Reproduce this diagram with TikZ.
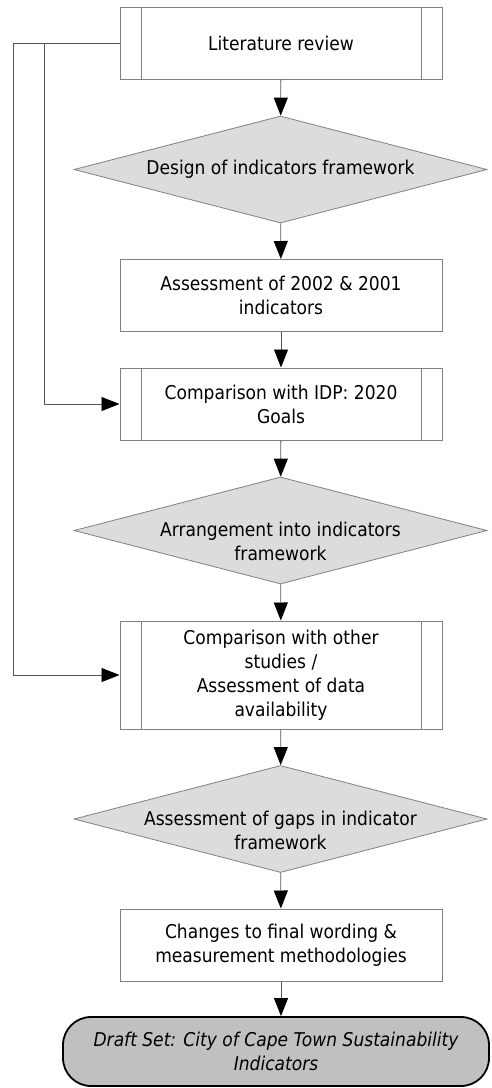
\documentclass[tikz,border=0pt]{standalone}
\usepackage{fontspec}
\setmainfont{DejaVu Sans}[FakeStretch=0.9]
\usetikzlibrary{shapes.geometric,arrows.meta}
\definecolor{boxgray}{HTML}{808080}
\definecolor{linegray}{HTML}{555555}
\definecolor{dfill}{HTML}{DCDCDC}
\definecolor{tfill}{HTML}{C0C0C0}
\newcommand\flowfont{\fontsize{19}{24}\selectfont}
\begin{document}
\begin{tikzpicture}[x=1pt,y=-1pt,
  proc/.style={rectangle, draw=boxgray, line width=1pt, fill=white,
    minimum width=322pt, minimum height=72pt, inner sep=0pt, align=center, font=\flowfont},
  predef/.style={proc, path picture={
    \draw[boxgray,line width=1pt] ([xshift=21pt]path picture bounding box.north west) -- ([xshift=21pt]path picture bounding box.south west);
    \draw[boxgray,line width=1pt] ([xshift=-21pt]path picture bounding box.north east) -- ([xshift=-21pt]path picture bounding box.south east);}},
  decision/.style={diamond, draw=boxgray, fill=dfill, line width=0.8pt, aspect=3.86,
    inner sep=0pt, minimum width=413pt, minimum height=107pt},
  dtext/.style={align=center, font=\flowfont, inner sep=0pt},
  term/.style={rectangle, rounded corners=28pt, draw=black, line width=1.8pt, fill=tfill,
    minimum width=426pt, minimum height=69pt, align=center, font=\flowfont\itshape, inner sep=0pt},
  conn/.style={draw=linegray, line width=0.8pt},
  arr/.style={conn, -{Triangle[length=18pt,width=14pt,color=black]}}
]
\useasboundingbox (0,0) rectangle (491,1088);

\node[predef] (b1) at (281,43) {Literature review};
\node[decision, label={[dtext]center:Design of indicators framework}] (d1) at (280.5,169.5) {};
\node[proc] (b2) at (281,295.5) {Assessment of 2002 \& 2001\\indicators};
\node[predef] (b3) at (281,404) {Comparison with IDP: 2020\\Goals};
\node[decision, label={[dtext, yshift=-11pt]center:Arrangement into indicators\\framework}] (d2) at (280.5,530.5) {};
\node[predef, minimum height=108pt] (b4) at (281,675) {Comparison with other\\studies /\\Assessment of data\\availability};
\node[decision, label={[dtext, yshift=-11pt]center:Assessment of gaps in indicator\\framework}] (d3) at (280.5,819) {};
\node[proc] (b5) at (281,945) {Changes to final wording \&\\measurement methodologies};
\node[term] (t) at (276,1051.5) {Draft Set: City of Cape Town Sustainability\\Indicators};

\draw[arr] (b1) -- (d1);
\draw[arr] (d1) -- (b2);
\draw[arr] (b2) -- (b3);
\draw[arr] (b3) -- (d2);
\draw[arr] (d2) -- (b4);
\draw[arr] (b4) -- (d3);
\draw[arr] (d3) -- (b5);
\draw[arr] (b5.south) -- (b5.south |- t.north);

\coordinate (j1) at (44,43);
\coordinate (j2) at (13,43);
\draw[conn] (b1.west) -- (j2);
\draw[arr] (j2) |- (b4.west);
\draw[arr] (j1) |- (b3.west);
\end{tikzpicture}
\end{document}
